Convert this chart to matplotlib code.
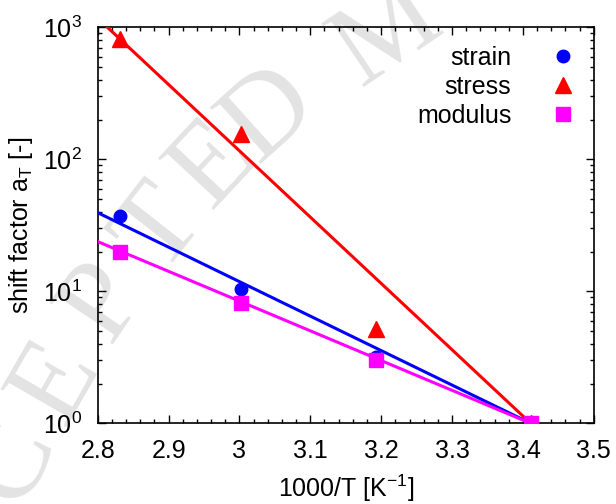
import matplotlib
matplotlib.use("Agg")
import matplotlib.pyplot as plt
from matplotlib.ticker import MultipleLocator, LogLocator, NullFormatter

plt.rcParams['font.family'] = ['Liberation Sans', 'DejaVu Sans']
plt.rcParams['mathtext.fontset'] = 'custom'
plt.rcParams['mathtext.rm'] = 'Liberation Sans'
plt.rcParams['mathtext.it'] = 'Liberation Sans'

# measured shift factors (x = 1000/T)
inv_T = [2.832, 3.002, 3.193, 3.411]
strain = [37.0, 10.5, 3.2, 1.0]
stress = [820.0, 155.0, 5.2, 1.0]
modulus = [20.0, 8.2, 3.0, 1.0]

# Arrhenius fit lines (end points)
fit_x = [2.8, 3.411]
strain_fit = [39.4, 1.0]
stress_fit = [1170.0, 1.0]
modulus_fit = [23.8, 1.0]

# watermark letters (figure pixels, from top-left)
wm_letters = ['C', 'E', 'P', 'T', 'E', 'D', 'M']
wm_x = [12, 57, 105, 162, 215, 270, 388]
wm_y = [462, 382, 302, 230, 165, 115, 35]
wm_rot = [64, 60, 56, 52, 47, 42, 34]

fig = plt.figure(figsize=(6.16, 5.04), dpi=100)
ax = fig.add_axes([0.1586, 0.160, 0.8054, 0.786])
ax.patch.set_alpha(0)
ax.set_zorder(2)

for ch, x, y, r in zip(wm_letters, wm_x, wm_y, wm_rot):
    fig.text(x / 616, 1 - y / 504, ch, fontsize=84, color='#e3e3e3',
             family=['Liberation Serif', 'DejaVu Serif'], rotation=r,
             rotation_mode='anchor', ha='center', va='center', zorder=0)

lw = 2.2
ax.plot(inv_T, strain, 'o', color='#0000ff', ms=9, label='strain', zorder=3)
ax.plot(fit_x, strain_fit, '-', color='#0000ff', lw=lw, zorder=3)
ax.plot(inv_T, stress, '^', color='#ff0000', ms=11, label='stress', zorder=3)
ax.plot(fit_x, stress_fit, '-', color='#ff0000', lw=lw, zorder=3)
ax.plot(inv_T, modulus, 's', color='#ff00ff', ms=10, label='modulus', zorder=3)
ax.plot(fit_x, modulus_fit, '-', color='#ff00ff', lw=lw, zorder=3)

ax.set_yscale('log')
ax.set_xlim(2.8, 3.5)
ax.set_ylim(1, 1000)
ax.xaxis.set_major_locator(MultipleLocator(0.1))
ax.xaxis.set_minor_locator(MultipleLocator(0.02))
ax.yaxis.set_major_locator(LogLocator(base=10))
ax.yaxis.set_minor_locator(LogLocator(base=10, subs=range(2, 10)))
ax.yaxis.set_minor_formatter(NullFormatter())
ax.xaxis.set_major_formatter(plt.FuncFormatter(lambda v, p: f'{v:g}'))
ax.tick_params(which='both', direction='in', top=True, right=True, labelsize=18, width=1)
ax.tick_params(which='major', length=6, pad=11)
ax.tick_params(which='minor', length=3)
for s in ax.spines.values():
    s.set_linewidth(1.2)

ax.set_xlabel('1000/T [K$^{-1}$]', fontsize=18, labelpad=7)
ax.set_ylabel('shift factor a$_\\mathrm{T}$ [-]', fontsize=18, labelpad=6)

leg = ax.legend(loc='upper right', frameon=False, markerfirst=False, fontsize=18,
                handlelength=1.0, handletextpad=1.55, labelspacing=0.2,
                borderaxespad=0.35)

fig.savefig('out.png', dpi=100)
